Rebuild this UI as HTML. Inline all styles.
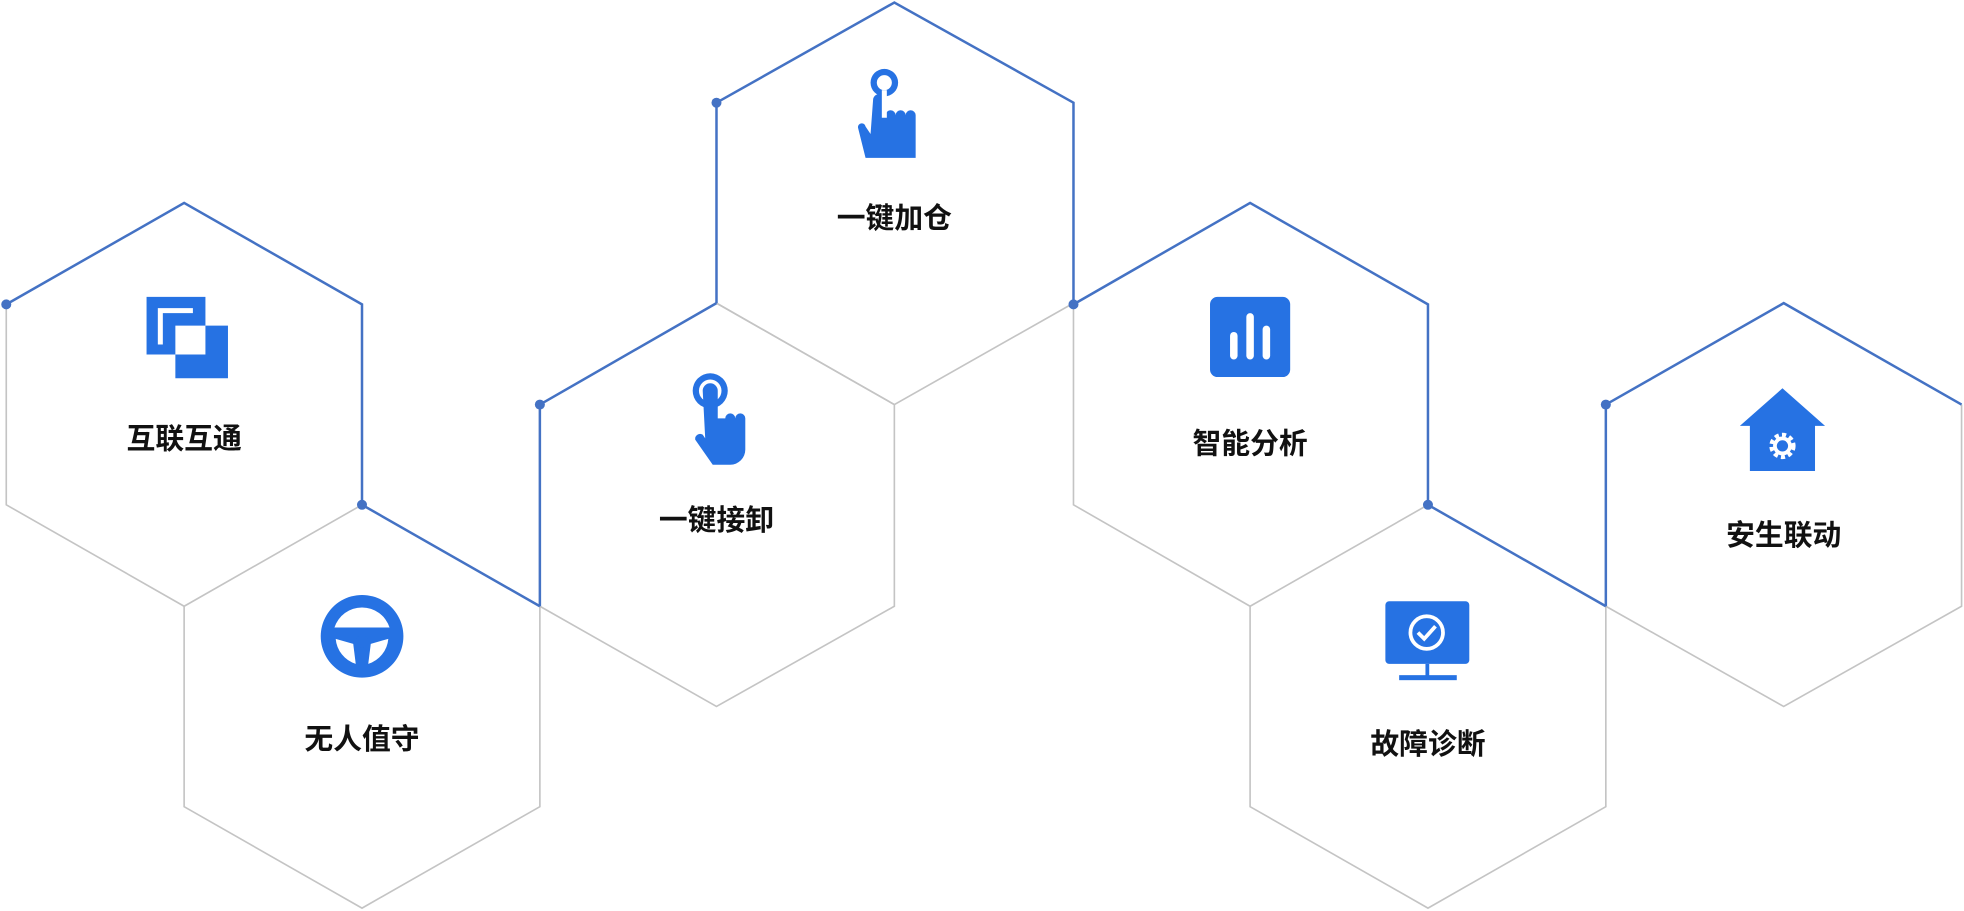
<!DOCTYPE html>
<html><head><meta charset="utf-8"><style>
body{margin:0;background:#fff;width:1964px;height:910px;overflow:hidden;position:relative;font-family:"Liberation Sans","Noto Sans CJK SC",sans-serif}
#w{position:absolute;left:0;top:0;width:1568px;height:727px;transform:scale(1.2526);transform-origin:0 0}
.l{position:absolute;font-size:23px;font-weight:bold;color:#111;transform:translate(-50%,-50%);white-space:nowrap}
</style></head><body><div id="w">
<svg width="1568" height="727" style="position:absolute;left:0;top:0">
<g fill="none" stroke="#c4c4c4" stroke-width="1.3">
<polyline points="289,403 147,484 5,403 5,243"/>
<polyline points="431,484 431,644 289,725 147,644 147,484"/>
<polyline points="572,242 714,323 714,484 572,564 431,484"/>
<polyline points="857,242 714,323 572,242"/>
<polyline points="1140,403 998,484 857,403 857,243"/>
<polyline points="1282,484 1282,644 1140,725 998,644 998,484"/>
<polyline points="1566,323 1566,484 1424,564 1282,484"/>
</g>
<g fill="none" stroke="#4472c4" stroke-width="2">
<polyline points="5,243 147,162 289,243 289,403 431,484"/>
<polyline points="431,484 431,323 572,242"/>
<polyline points="572,242 572,82 714,2 857,82 857,242"/>
<polyline points="857,243 998,162 1140,243 1140,403 1282,484"/>
<polyline points="1282,484 1282,323 1424,242 1566,323"/>
</g>
<g fill="#4472c4">
<circle cx="5" cy="243" r="4"/><circle cx="289" cy="403" r="4"/><circle cx="431" cy="323" r="4"/>
<circle cx="572" cy="82" r="4"/><circle cx="857" cy="243" r="4"/><circle cx="1140" cy="403" r="4"/><circle cx="1282" cy="323" r="4"/>
</g>
<g fill="#2672e3">
<path d="M117,237h47v23h-24v23h-23z M126,246v29h4v-25h24v-4z" fill-rule="evenodd"/>
<path d="M140,260h42v42h-42z M140,260h24v23h-24z" fill-rule="evenodd"/>
<path d="M289,475a33,33 0 1,0 0.1,0z M289,485a23,23 0 0,1 22,16h-44a23,23 0 0,1 22,-16z M268,510l14,4l2,16a23,23 0 0,1 -16,-20z M310,510l-14,4l-2,16a23,23 0 0,0 16,-20z" fill-rule="evenodd"/>
<circle cx="289" cy="512" r="5"/>
<circle cx="567" cy="312" r="14"/><circle cx="567" cy="312" r="9" fill="#fff"/>
<path d="M561,312a6,6 0 0,1 12,0v22h6a4,4 0 0,1 8,0a4,4 0 0,1 8,0v25a12,12 0 0,1 -12,12h-14l-14,-20a4,4 0 0,1 6,-4l2,3z"/>
<circle cx="706" cy="66" r="11"/>
<path d="M697,80a5,5 0 0,1 10,0v12a4,4 0 0,1 8,0a4,4 0 0,1 8,0a4,4 0 0,1 8,0v34h-40l-6,-24a3,3 0 0,1 6,-1l4,6z"/>
<rect x="966" y="237" width="64" height="64" rx="6"/>
<rect x="1106" y="480" width="67" height="50" rx="3"/>
<rect x="1138" y="530" width="3" height="10"/><rect x="1117" y="539" width="46" height="4"/>
<path d="M1423,310l34,30h-8v36h-52v-36h-8z"/>
</g>
<circle cx="706" cy="66" r="6" fill="#fff"/><rect x="704" y="72" width="4" height="22" fill="#fff"/>
<g fill="#fff"><rect x="982" y="265" width="6" height="22" rx="3"/><rect x="995" y="250" width="6" height="37" rx="3"/><rect x="1008" y="260" width="6" height="27" rx="3"/></g>
<circle cx="1139" cy="505" r="13" fill="none" stroke="#fff" stroke-width="3"/>
<polyline points="1132,505 1137,510 1146,500" fill="none" stroke="#fff" stroke-width="3"/>
<circle cx="1423" cy="356" r="8" fill="none" stroke="#fff" stroke-width="5" stroke-dasharray="3 2.3"/>
<circle cx="1423" cy="356" r="6" fill="none" stroke="#fff" stroke-width="3"/>
</svg>
<div class="l" style="left:147px;top:348px">互联互通</div>
<div class="l" style="left:289px;top:588px">无人值守</div>
<div class="l" style="left:572px;top:413px">一键接卸</div>
<div class="l" style="left:714px;top:172px">一键加仓</div>
<div class="l" style="left:998px;top:352px">智能分析</div>
<div class="l" style="left:1140px;top:592px">故障诊断</div>
<div class="l" style="left:1424px;top:425px">安生联动</div>
</div></body></html>
